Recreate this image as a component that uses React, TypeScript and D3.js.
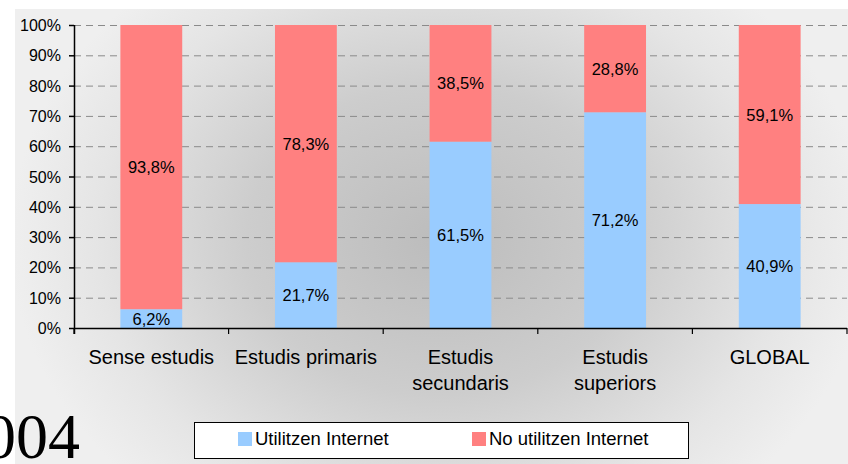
import React from "react";
import * as d3 from "d3";

const categories: string[][] = [
  ["Sense estudis"],
  ["Estudis primaris"],
  ["Estudis", "secundaris"],
  ["Estudis", "superiors"],
  ["GLOBAL"],
];
const utilitzen = [6.2, 21.7, 61.5, 71.2, 40.9];
const noUtilitzen = [93.8, 78.3, 38.5, 28.8, 59.1];
const seriesNames = ["Utilitzen Internet", "No utilitzen Internet"];
const seriesColors = ["#99CCFF", "#FF8080"];
const yTicks = [0, 10, 20, 30, 40, 50, 60, 70, 80, 90, 100];
const yearLabel = "2004";

const W = 848;
const H = 464;
const left = 74;
const right = 847;
const top = 25;
const bottom = 328;

export default function App() {
  const keys = categories.map((c) => c.join(" "));
  const x = d3.scaleBand<string>().domain(keys).range([left, right]).paddingInner(0.6).paddingOuter(0.3);
  const y = d3.scaleLinear().domain([0, 100]).range([bottom, top]);
  const step = x.step();
  const rows = keys.map((k, i) => ({ key: k, u: utilitzen[i], n: noUtilitzen[i] }));
  const stack = d3.stack<any>().keys(["u", "n"])(rows);
  const fmt = (v: number) => v.toFixed(1).replace(".", ",") + "%";
  const font = "'Liberation Sans', Arial, sans-serif";

  return (
    <svg width={W} height={H} style={{ position: "absolute", left: 0, top: 0, background: "#fff" }}>
      <defs>
        <radialGradient id="bg" cx="440" cy="240" r="430" gradientUnits="userSpaceOnUse" gradientTransform="translate(440 240) scale(1 0.8) translate(-440 -240)">
          <stop offset="0" stopColor="#bcbcbc" />
          <stop offset="0.45" stopColor="#cdcdcd" />
          <stop offset="0.8" stopColor="#e5e5e5" />
          <stop offset="1" stopColor="#efefef" />
        </radialGradient>
      </defs>
      <rect x={15} y={9} width={W - 15} height={H - 9} fill="url(#bg)" />
      {yTicks.map((t) => (
        <line key={"g" + t} x1={left} x2={right} y1={y(t) + 0.5} y2={y(t) + 0.5} stroke="#8a8a8a" strokeDasharray="7,5" strokeWidth={1} />
      ))}
      {stack.map((s, si) =>
        s.map((d, i) => (
          <rect key={si + "-" + i} x={x(keys[i])} width={x.bandwidth()} y={y(d[1])} height={y(d[0]) - y(d[1])} fill={seriesColors[si]} />
        ))
      )}
      {stack.map((s, si) =>
        s.map((d, i) => (
          <text key={"l" + si + "-" + i} x={(x(keys[i]) as number) + x.bandwidth() / 2} y={(y(d[0]) + y(d[1])) / 2 + 6} textAnchor="middle" fontFamily={font} fontSize={16.5} fill="#000">
            {fmt(si === 0 ? utilitzen[i] : noUtilitzen[i])}
          </text>
        ))
      )}
      <line x1={left + 0.5} x2={left + 0.5} y1={top} y2={bottom + 6} stroke="#000" strokeWidth={1.5} />
      {yTicks.map((t) => (
        <g key={"t" + t}>
          <line x1={left - 5} x2={left} y1={y(t) + 0.5} y2={y(t) + 0.5} stroke="#000" strokeWidth={1.5} />
          <text x={61} y={y(t) + 6} textAnchor="end" fontFamily={font} fontSize={16} fill="#000">
            {t}%
          </text>
        </g>
      ))}
      <line x1={left} x2={right} y1={bottom + 0.5} y2={bottom + 0.5} stroke="#000" strokeWidth={1.5} />
      {d3.range(keys.length + 1).map((i) => (
        <line key={"xt" + i} x1={left + i * step} x2={left + i * step} y1={bottom} y2={bottom + 6} stroke="#000" strokeWidth={1.2} />
      ))}
      {categories.map((lines, i) => (
        <text key={"c" + i} x={(x(keys[i]) as number) + x.bandwidth() / 2} textAnchor="middle" fontFamily={font} fontSize={20} fill="#000">
          {lines.map((ln, j) => (
            <tspan key={j} x={(x(keys[i]) as number) + x.bandwidth() / 2} y={364 + j * 26}>
              {ln}
            </tspan>
          ))}
        </text>
      ))}
      <rect x={194.5} y={422.5} width={494} height={36} fill="#fff" stroke="#000" strokeWidth={1} />
      {seriesNames.map((n, i) => {
        const lx = i === 0 ? 238 : 472;
        return (
          <g key={"lg" + i}>
            <rect x={lx} y={432} width={14} height={14} fill={seriesColors[i]} />
            <text x={lx + 17} y={445} fontFamily={font} fontSize={18.5} fill="#000">
              {n}
            </text>
          </g>
        );
      })}
      <text x={80} y={458} textAnchor="end" fontFamily="'Liberation Serif', 'Times New Roman', serif" fontSize={64} fill="#000">
        {yearLabel}
      </text>
    </svg>
  );
}
